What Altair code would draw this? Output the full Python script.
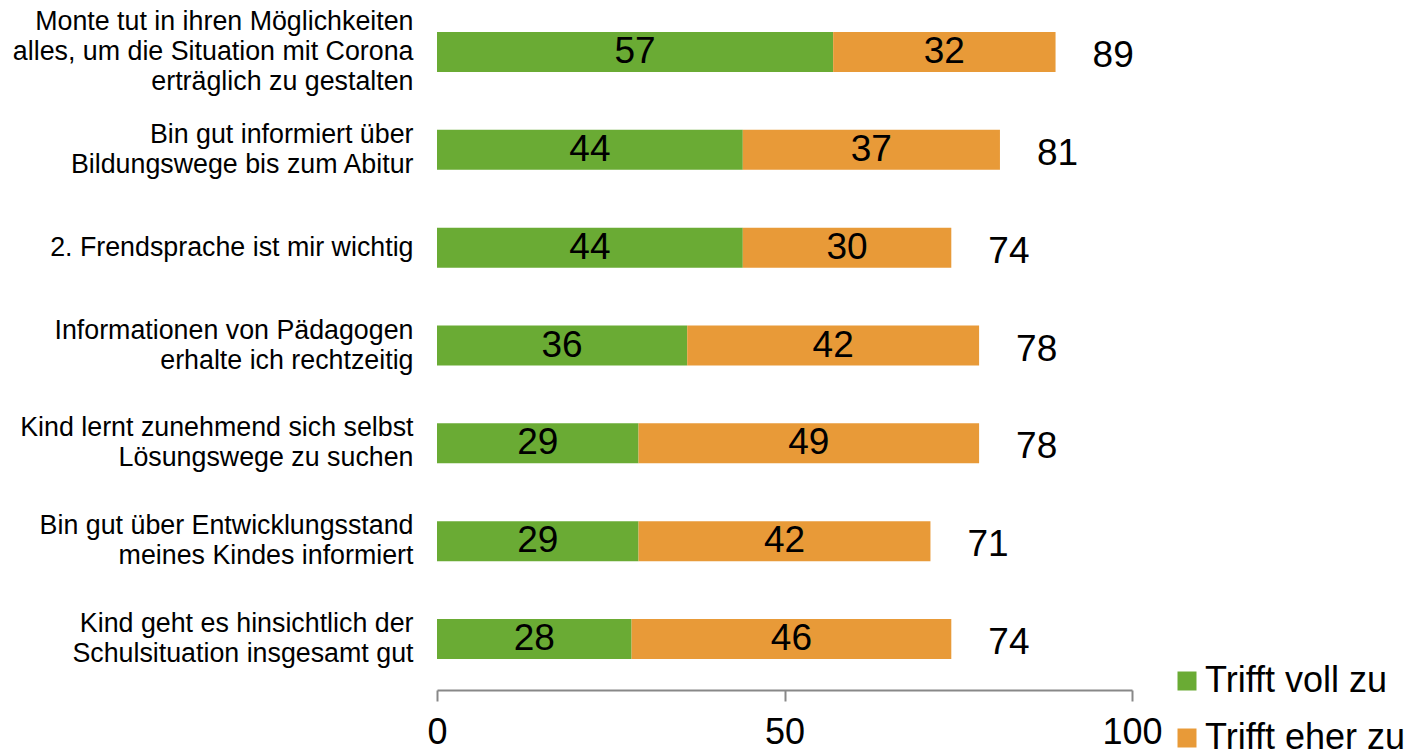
import altair as alt
import pandas as pd

categories = [
    "Monte tut in ihren Möglichkeiten|alles, um die Situation mit Corona|erträglich zu gestalten",
    "Bin gut informiert über|Bildungswege bis zum Abitur",
    "2. Frendsprache ist mir wichtig",
    "Informationen von Pädagogen|erhalte ich rechtzeitig",
    "Kind lernt zunehmend sich selbst|Lösungswege zu suchen",
    "Bin gut über Entwicklungsstand|meines Kindes informiert",
    "Kind geht es hinsichtlich der|Schulsituation insgesamt gut",
]
series = ["Trifft voll zu", "Trifft eher zu"]
voll = [57, 44, 44, 36, 29, 29, 28]
eher = [32, 37, 30, 42, 49, 42, 46]
colors = ["#6AAB34", "#E89A38"]
x_ticks = [0, 50, 100]

rows = []
for c, v, e in zip(categories, voll, eher):
    rows.append({"cat": c, "series": series[0], "value": v, "order": 0})
    rows.append({"cat": c, "series": series[1], "value": e, "order": 1})
df = pd.DataFrame(rows)

FONT = "Liberation Sans"

label_offset = {
    "condition": [
        {"test": "length(split(datum.value, '|')) == 3", "value": -30},
        {"test": "length(split(datum.value, '|')) == 2", "value": -15},
    ],
    "value": 0,
}

y_enc = alt.Y(
    "cat:N",
    sort=categories,
    scale=alt.Scale(paddingInner=0.591, paddingOuter=0.317),
    axis=alt.Axis(
        title=None,
        labelExpr="split(datum.label, '|')",
        labelFontSize=26.8,
        labelLineHeight=30,
        labelFont=FONT,
        labelColor="black",
        labelPadding=24,
        labelLimit=800,
        labelOffset=label_offset,
        ticks=False,
        domain=False,
        grid=False,
    ),
)

base = alt.Chart(df).transform_stack(
    stack="value",
    groupby=["cat"],
    as_=["x0", "x1"],
    sort=[alt.SortField("order", order="ascending")],
)

bars = base.mark_bar().encode(
    y=y_enc,
    x=alt.X(
        "x0:Q",
        scale=alt.Scale(domain=[0, 100], nice=False),
        axis=alt.Axis(
            title=None,
            values=x_ticks,
            grid=False,
            domainColor="#888888",
            domainWidth=2,
            tickColor="#888888",
            tickWidth=2,
            tickSize=11,
            labelFontSize=36,
            labelFont=FONT,
            labelColor="black",
            labelPadding=14,
            labelFlush=False,
        ),
    ),
    x2="x1:Q",
    color=alt.Color(
        "series:N",
        scale=alt.Scale(domain=series, range=colors),
        legend=alt.Legend(
            title=None,
            orient="none",
            legendX=732,
            legendY=662,
            symbolType="square",
            symbolSize=361,
            symbolStrokeWidth=0,
            labelFontSize=36,
            labelFont=FONT,
            labelColor="black",
            labelOffset=0,
            labelLimit=400,
            rowPadding=21,
            padding=0,
        ),
    ),
)

seg_text = base.transform_calculate(mid="(datum.x0 + datum.x1) / 2").mark_text(
    fontSize=37, font=FONT, color="black", align="center", baseline="middle"
).encode(
    y=alt.Y("cat:N", sort=categories),
    x=alt.X("mid:Q"),
    text=alt.Text("value:Q"),
)

totals = alt.Chart(df).transform_aggregate(
    total="sum(value)", groupby=["cat"]
).mark_text(
    fontSize=37, font=FONT, color="black", align="left", baseline="middle", dx=37, dy=4
).encode(
    y=alt.Y("cat:N", sort=categories),
    x=alt.X("total:Q"),
    text=alt.Text("total:Q"),
)

chart = (
    alt.layer(bars, seg_text, totals)
    .properties(
        width=695,
        height=689,
        background="white",
        autosize=alt.AutoSizeParams(type="none"),
        padding={"left": 429, "top": -7, "right": 274, "bottom": 63},
    )
    .configure_view(strokeWidth=0, strokeOpacity=0)
    .configure_axis(grid=False)
)

chart.save("out.html", embed_options={"renderer": "svg", "actions": False})
